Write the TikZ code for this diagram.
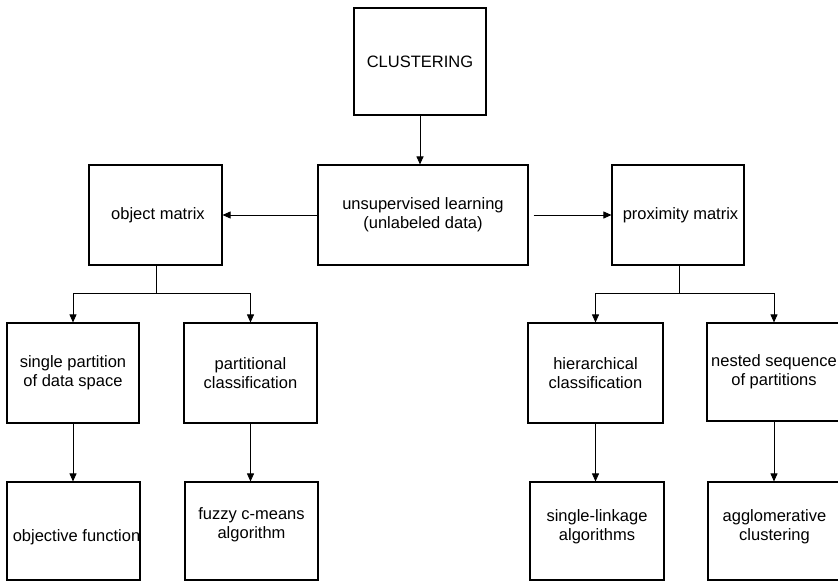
\documentclass[tikz,border=0pt]{standalone}
\usepackage{fontspec}
\setmainfont{Liberation Sans}
\usetikzlibrary{arrows.meta}
\begin{document}
\begin{tikzpicture}[x=1pt,y=-1pt,
  box/.style={draw=black, line width=1.1pt, rectangle, inner sep=0pt, align=center,
    font=\fontsize{16.5}{19}\selectfont},
  txt/.style={inner sep=0pt, align=center, font=\fontsize{16.5}{19}\selectfont},
  conn/.style={draw=black, line width=0.8pt},
  arr/.style={conn, -{Triangle[length=8pt,width=7pt]}}]
\useasboundingbox (0,0) rectangle (838,581);
\fill[white] (0,0) rectangle (838,581);
% top level
\node[box, minimum width=132pt, minimum height=107pt] (clus) at (420,61.5) {CLUSTERING};
\node[box, minimum width=210pt, minimum height=100pt] (unsup) at (423,215) {unsupervised learning\\(unlabeled data)};
\node[box, minimum width=133pt, minimum height=100pt] (obj) at (155.5,215) {\hspace*{5pt}object matrix};
\node[box, minimum width=132pt, minimum height=100pt] (prox) at (678,215) {\hspace*{5pt}proximity matrix};
% second level
\node[box, minimum width=132pt, minimum height=100pt] (sp) at (73,373) {single partition\\of data space};
\node[box, minimum width=133pt, minimum height=100pt] (part) at (250.5,373) {partitional\\classification};
\node[box, minimum width=135pt, minimum height=100pt] (hier) at (595.5,373) {hierarchical\\classification};
\node[box, minimum width=134pt, minimum height=98pt] (nest) at (774,372) {nested sequence\\of partitions};
% third level (boxes)
\node[box, minimum width=133pt, minimum height=98pt] (objf) at (73.5,531) {};
\node[box, minimum width=133pt, minimum height=98pt] (fuzzy) at (251.5,531) {};
\node[box, minimum width=134pt, minimum height=98pt] (slink) at (597,531) {};
\node[box, minimum width=133pt, minimum height=98pt] (aggl) at (774.5,531) {};
\node[txt] (objft) at ([shift={(3,6)}]objf.center) {objective function};
\node[txt] (fuzzyt) at ([yshift=6]fuzzy.center) {fuzzy c-means\\algorithm};
\node[txt] (slinkt) at ([yshift=4]slink.center) {single-linkage\\algorithms};
\node[txt] (agglt) at ([yshift=4]aggl.center) {agglomerative\\clustering};
% connectors
\draw[arr, line width=1pt] (clus.south) -- (clus.south |- unsup.north);
\draw[arr] (unsup.west) -- (obj.east);
\draw[arr] ([xshift=5pt]unsup.east) -- (prox.west);
\coordinate (ls) at (156,293);
\coordinate (rs) at (679,293);
\draw[conn] (obj.south -| ls) -- (ls);
\draw[arr] (ls) -| (sp.north);
\draw[arr] (ls) -| (part.north);
\draw[conn] (prox.south -| rs) -- (rs);
\draw[arr] (rs) -| (hier.north);
\draw[arr] (rs) -| (nest.north);
\draw[arr] (sp.south) -- (sp.south |- objf.north);
\draw[arr] (part.south) -- (part.south |- fuzzy.north);
\draw[arr] (hier.south) -- (hier.south |- slink.north);
\draw[arr] (nest.south) -- (nest.south |- aggl.north);
\end{tikzpicture}
\end{document}
